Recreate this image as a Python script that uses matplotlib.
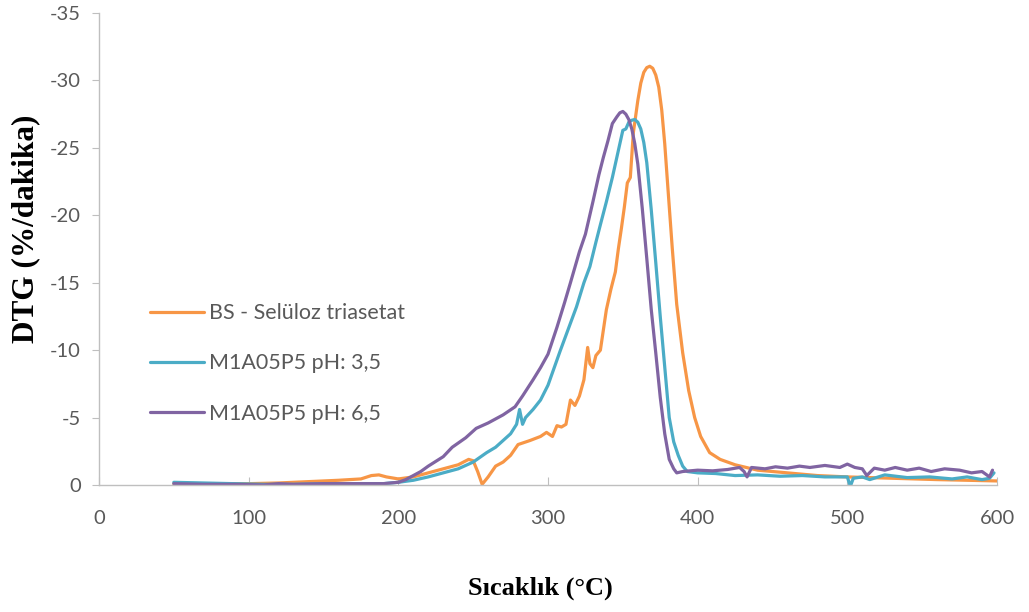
import matplotlib
matplotlib.use("Agg")
import matplotlib.pyplot as plt
import numpy as np

# DTG curves (temperature in °C, DTG magnitude in %/dakika)
bs_temp = [50, 80, 100, 120, 140, 160, 175, 182, 187, 192, 200, 210, 220, 230, 240, 247,
           250, 253, 256, 260, 265, 270, 275, 280, 288, 295, 299, 303, 306, 309, 312, 315,
           318, 321, 324, 326.5, 328, 330, 332, 335, 337, 339, 342, 345, 347, 349, 351, 353,
           355, 357, 360, 362, 364, 366, 368, 370, 372, 374, 376, 378, 380, 383, 386, 390,
           394, 398, 402, 408, 415, 425, 440, 460, 480, 500, 530, 560, 600]
bs_dtg = [0.1, 0.1, 0.1, 0.15, 0.25, 0.35, 0.45, 0.7, 0.75, 0.6, 0.45, 0.6, 0.9, 1.2, 1.5, 1.9,
          1.8, 1.0, 0.05, 0.6, 1.4, 1.7, 2.2, 3.0, 3.3, 3.6, 3.9, 3.6, 4.4, 4.3, 4.5, 6.3,
          5.9, 6.6, 7.8, 10.2, 9.0, 8.7, 9.6, 10.0, 11.5, 13.0, 14.5, 15.8, 17.5, 19.0, 20.6, 22.4,
          22.8, 26.1, 28.5, 29.8, 30.6, 30.95, 31.05, 30.9, 30.4, 29.5, 27.8, 25.3, 22.2, 17.6, 13.4, 9.8,
          7.0, 5.0, 3.6, 2.4, 1.9, 1.5, 1.1, 0.9, 0.7, 0.6, 0.5, 0.4, 0.3]

ph35_temp = [50, 70, 90, 110, 130, 150, 170, 190, 200, 210, 220, 230, 240, 250, 259, 265,
             270, 275, 279, 281, 283, 285, 290, 295, 300, 308, 314, 319, 324, 328, 332, 335,
             339, 343, 346, 348, 350, 352, 354, 356, 358, 360, 362, 364, 366, 369, 372, 375,
             377, 379, 381, 384, 387, 390, 393, 400, 412, 425, 440, 455, 470, 485, 500, 502,
             504, 510, 515, 525, 540, 555, 570, 580, 590, 595, 598]
ph35_dtg = [0.2, 0.15, 0.1, 0.05, 0.05, 0.1, 0.1, 0.1, 0.2, 0.35, 0.6, 0.9, 1.2, 1.7, 2.4, 2.8,
            3.3, 3.8, 4.5, 5.6, 4.5, 5.0, 5.6, 6.3, 7.4, 9.9, 11.7, 13.2, 15.0, 16.2, 18.0, 19.3,
            21.0, 22.8, 24.3, 25.3, 26.3, 26.4, 26.9, 27.05, 27.1, 26.9, 26.4, 25.4, 23.9, 20.4, 16.5, 12.5,
            10.0, 7.5, 5.0, 3.2, 2.2, 1.4, 1.0, 0.9, 0.85, 0.7, 0.75, 0.65, 0.7, 0.6, 0.6, -0.1,
            0.5, 0.6, 0.4, 0.75, 0.55, 0.6, 0.45, 0.6, 0.4, 0.5, 0.9]

ph65_temp = [50, 70, 90, 110, 120, 130, 150, 170, 190, 200, 205, 210, 215, 220, 230, 236,
             245, 252, 260, 270, 278, 283, 290, 295, 300, 306, 311, 315, 321, 325, 330, 334,
             337, 340, 343, 346, 348, 350, 352, 354, 356, 358, 360, 363, 366, 369, 372, 375,
             378, 381, 384, 386, 390, 400, 410, 420, 428, 431, 433, 436, 445, 452, 460, 468,
             475, 485, 495, 500, 505, 510, 513, 518, 525, 532, 540, 548, 556, 565, 575, 583,
             590, 595, 597]
ph65_dtg = [0.1, 0.05, 0.05, 0.0, 0.1, 0.05, 0.1, 0.1, 0.1, 0.2, 0.4, 0.7, 1.0, 1.4, 2.1, 2.8,
            3.5, 4.2, 4.6, 5.2, 5.8, 6.6, 7.8, 8.7, 9.7, 11.7, 13.5, 15.0, 17.3, 18.6, 21.0, 23.0,
            24.3, 25.5, 26.8, 27.3, 27.6, 27.7, 27.5, 27.1, 26.4, 25.3, 23.8, 20.5, 16.8, 13.0, 9.8, 6.5,
            3.8, 1.9, 1.2, 0.9, 1.0, 1.1, 1.05, 1.15, 1.3, 1.0, 0.6, 1.3, 1.2, 1.35, 1.25, 1.4,
            1.3, 1.45, 1.3, 1.55, 1.3, 1.2, 0.7, 1.25, 1.1, 1.3, 1.1, 1.25, 1.0, 1.2, 1.1, 0.9,
            1.0, 0.6, 1.1]

labels = ["BS - Selüloz triasetat", "M1A05P5 pH: 3,5", "M1A05P5 pH: 6,5"]
colors = ["#F79646", "#4BACC6", "#8064A2"]

x_ticks = [0, 100, 200, 300, 400, 500, 600]
y_ticks = [0, -5, -10, -15, -20, -25, -30, -35]

plt.rcParams["font.family"] = ["Lato", "DejaVu Sans"]

fig = plt.figure(figsize=(10.29, 6.12), dpi=100)
ax = fig.add_axes([99 / 1029, 1 - 485 / 612, (997 - 99) / 1029, (485 - 13) / 612])

series = [(bs_temp, bs_dtg), (ph35_temp, ph35_dtg), (ph65_temp, ph65_dtg)]
for (t, d), lab, c in zip(series, labels, colors):
    ax.plot(t, -np.array(d), color=c, lw=2.3, label=lab,
            solid_joinstyle="round", solid_capstyle="round")

ax.set_xlim(0, 600)
ax.set_ylim(0, -35)          # reversed axis, like the original
ax.set_xticks(x_ticks)
ax.set_yticks(y_ticks)
ax.set_yticklabels([str(v) for v in y_ticks])

gray = "#BFBFBF"
for s in ("top", "right"):
    ax.spines[s].set_visible(False)
for s in ("left", "bottom"):
    ax.spines[s].set_color(gray)
    ax.spines[s].set_linewidth(1.0)
ax.tick_params(axis="x", direction="in", length=6, color=gray, labelsize=14.5,
               labelcolor="#595959", pad=18)
ax.tick_params(axis="y", direction="out", length=5, color=gray, labelsize=14.5,
               labelcolor="#595959", pad=8)

ax.set_xlabel("Sıcaklık (°C)", family="Liberation Serif", fontweight="bold", fontsize=19)
ax.set_ylabel("DTG (%/dakika)", family="Liberation Serif", fontweight="bold", fontsize=22.5)
ax.xaxis.set_label_coords(0.491, -0.218)
ax.yaxis.set_label_coords(-0.082, 0.543)
ax.xaxis.label.set_va("center")
ax.yaxis.label.set_va("center")

ax.legend(loc="upper left", bbox_to_anchor=(0.0568, 0.385), frameon=False,
          fontsize=15.5, labelcolor="#595959", handlelength=2.5, handletextpad=0.25,
          labelspacing=1.4, borderpad=0, borderaxespad=0)

fig.savefig("out.png", dpi=100)
